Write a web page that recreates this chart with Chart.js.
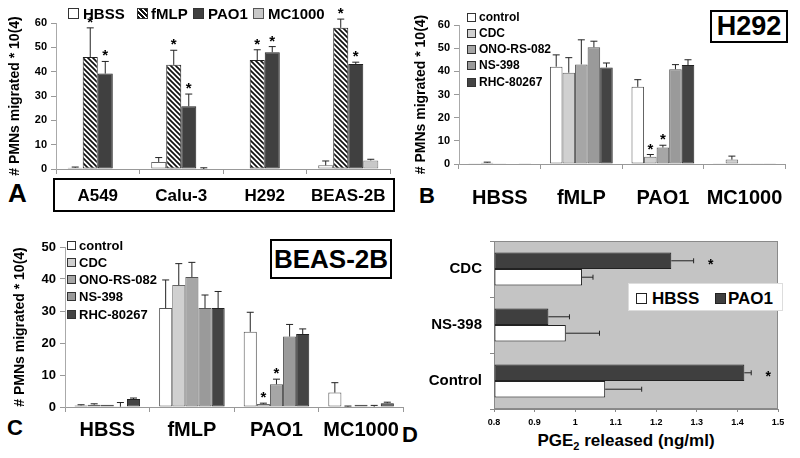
<!DOCTYPE html>
<html>
<head>
<meta charset="utf-8">
<script src="https://cdn.jsdelivr.net/npm/chart.js@4"></script>
<style>
  body { margin: 0; width: 800px; height: 458px; position: relative; overflow: hidden; background: #fff;
         font-family: "Liberation Sans", Arial, sans-serif; }
  canvas { position: absolute; }
  .txt { position: absolute; font-weight: bold; line-height: 1; white-space: nowrap; color: #000; }
  .box { position: absolute; box-sizing: border-box; border: 2px solid #000; display: flex;
         align-items: center; justify-content: center; font-weight: bold; line-height: 1; }
  .sq { position: absolute; box-sizing: border-box; border: 1px solid #333; }
</style>
</head>
<body>
<div class="box" style="left:53px;top:178px;width:342px;height:34px"></div>
<div class="box" style="left:710px;top:10px;width:78px;height:33px;font-size:27px">H292</div>
<div class="box" style="left:270px;top:239px;width:122px;height:40px;font-size:26px">BEAS-2B</div>
<div class="txt" style="left:8px;top:180px;font-size:26px">A</div>
<div class="txt" style="left:419px;top:185px;font-size:22px">B</div>
<div class="txt" style="left:7px;top:417px;font-size:22px">C</div>
<div class="txt" style="left:402px;top:424px;font-size:22px">D</div>
<div class="txt" style="left:476px;top:432px;width:300px;text-align:center;font-size:17px">PGE<sub style="font-size:11px;line-height:0">2</sub> released (ng/ml)</div>

<canvas id="chartA" width="400" height="229" style="left:0;top:0"></canvas>
<canvas id="chartB" width="400" height="229" style="left:400px;top:0"></canvas>
<canvas id="chartC" width="405" height="229" style="left:0;top:229px"></canvas>
<canvas id="chartD" width="400" height="234" style="left:400px;top:224px"></canvas>
<div id="legends"></div>

<script>
// panel A: cell lines x stimulus
const cellLines = ['A549', 'Calu-3', 'H292', 'BEAS-2B'];
const aHBSS = [0.5, 2.9, 0, 1.5];
const aHBSSErr = [0.3, 1.8, 0, 1.8];
const aFMLP = [46, 42.8, 44.8, 58];
const aFMLPErr = [12, 6, 4.2, 3.6];
const aPAO1 = [39.2, 25.8, 48, 43.1];
const aPAO1Err = [5, 5, 2.3, 0.8];
const aMC1000 = [0, 0, 0, 3.5];
const aMC1000Err = [0, 0.5, 0, 0.5];
const aStars = [true, true, true, true];

// panels B (H292) and C (BEAS-2B): stimulus x inhibitor
const stimuli = ['HBSS', 'fMLP', 'PAO1', 'MC1000'];
const inhibitors = ['control', 'CDC', 'ONO-RS-082', 'NS-398', 'RHC-80267'];
const inhibStars = [false, false, true, false]; // only under PAO1 for CDC and ONO-RS-082

const bControl = [0.1, 42, 33.3, 0.1];
const bControlErr = [0, 5.1, 3.1, 0];
const bCDC = [0.5, 39.4, 3.1, 1.9];
const bCDCErr = [0.3, 6.5, 1, 1.5];
const bONO = [0.3, 43, 7.1, 0.1];
const bONOErr = [0, 10.6, 1, 0];
const bNS = [0.2, 50.4, 40.9, 0.1];
const bNSErr = [0, 2.6, 2, 0];
const bRHC = [0.1, 41.7, 42.7, 0.1];
const bRHCErr = [0, 1.9, 2.3, 0];

const cControl = [0.5, 30.9, 23.5, 4.5];
const cControlErr = [0.2, 8.8, 6.1, 3.1];
const cCDC = [0.7, 38.1, 0.9, 0.1];
const cCDCErr = [0.3, 6.7, 0.3, 0.2];
const cONO = [0.7, 40.6, 7.1, 0.7];
const cONOErr = [0, 4.6, 1.6, 0];
const cNS = [0.1, 30.9, 22, 0.1];
const cNSErr = [1.3, 4.1, 3.8, 0.4];
const cRHC = [2.5, 30.9, 22.8, 1.2];
const cRHCErr = [0.3, 5.2, 1.6, 0.3];

// panel D: PGE2 release
const dTreatments = ['CDC', 'NS-398', 'Control'];
const dHBSS = [1.017, 0.977, 1.074];
const dHBSSErr = [0.027, 0.083, 0.09];
const dPAO1 = [1.237, 0.934, 1.417];
const dPAO1Err = [0.055, 0.052, 0.017];
const dStars = [true, false, true];

const yTicksA = [0, 10, 20, 30, 40, 50, 60];
const yTicksB = [0, 10, 20, 30, 40, 50, 60];
const yTicksC = [0, 10, 20, 30, 40, 50];
const xTicksD = [0.8, 0.9, 1, 1.1, 1.2, 1.3, 1.4, 1.5];
const yTitle = '# PMNs migrated * 10(4)';

const FONT = '"Liberation Sans", Arial, sans-serif';
Chart.defaults.font.family = FONT;
Chart.defaults.color = '#000';

const inhibColors = ['#ffffff', '#d0d0d0', '#a6a6a6', '#9a9a9a', '#444444'];
const inhibBorders = ['#555', '#666', '#555', '#555', '#222'];

function hatch() {
  const c = document.createElement('canvas');
  c.width = c.height = 5;
  const g = c.getContext('2d');
  g.fillStyle = '#fff';
  g.fillRect(0, 0, 5, 5);
  g.strokeStyle = '#111';
  g.lineWidth = 1.7;
  g.beginPath();
  for (let k = -1; k <= 1; k++) {
    g.moveTo(k * 5 - 1, -1);
    g.lineTo(k * 5 + 6, 6);
  }
  g.stroke();
  return g.createPattern(c, 'repeat');
}

// error bars (upper side only) and significance stars
const errorBars = {
  id: 'errorBars',
  afterDatasetsDraw(chart, args, o) {
    const ctx = chart.ctx;
    const horiz = chart.options.indexAxis === 'y';
    const vs = horiz ? chart.scales.x : chart.scales.y;
    ctx.save();
    chart.data.datasets.forEach((ds, i) => {
      if (!ds.errors) return;
      chart.getDatasetMeta(i).data.forEach((bar, j) => {
        const e = ds.errors[j];
        const end = vs.getPixelForValue(ds.data[j] + e);
        const from = horiz ? bar.x : bar.y;
        const c = horiz ? bar.y : bar.x;
        ctx.strokeStyle = o.color;
        ctx.lineWidth = o.width;
        if (e > 0) {
          ctx.beginPath();
          if (horiz) {
            ctx.moveTo(from, c); ctx.lineTo(end, c);
            ctx.moveTo(end, c - o.cap); ctx.lineTo(end, c + o.cap);
          } else {
            ctx.moveTo(c, from); ctx.lineTo(c, end);
            ctx.moveTo(c - o.cap, end); ctx.lineTo(c + o.cap, end);
          }
          ctx.stroke();
        }
        if (ds.stars && ds.stars[j]) {
          ctx.fillStyle = '#000';
          ctx.font = o.starFont;
          ctx.textAlign = 'center';
          ctx.textBaseline = 'alphabetic';
          if (horiz) ctx.fillText('*', end + o.starGap, c + 8);
          else ctx.fillText('*', c, end - o.starGap);
        }
      });
    });
    ctx.restore();
  }
};

const plotBg = {
  id: 'plotBg',
  beforeDatasetsDraw(chart, args, o) {
    if (!o.color) return;
    const a = chart.chartArea, ctx = chart.ctx;
    ctx.save();
    ctx.fillStyle = o.color;
    ctx.fillRect(a.left, a.top, a.right - a.left, a.bottom - a.top);
    ctx.strokeStyle = o.border;
    ctx.lineWidth = 1;
    ctx.strokeRect(a.left + 0.5, a.top + 0.5, a.right - a.left - 1, a.bottom - a.top - 1);
    ctx.restore();
  }
};

function groupedOptions(p) {
  return {
    responsive: false,
    animation: false,
    devicePixelRatio: 1,
    layout: { padding: { top: p.top, right: p.right, left: 0, bottom: 0 } },
    datasets: { bar: { barPercentage: 1, categoryPercentage: p.cat, borderWidth: 1, borderSkipped: false, clip: false } },
    plugins: {
      legend: { display: false },
      tooltip: { enabled: false },
      errorBars: { color: '#222', width: 1, cap: 3.5, starFont: 'bold 15px ' + FONT, starGap: 1 }
    },
    scales: {
      x: {
        grid: { offset: true, drawOnChartArea: false, tickLength: 5, color: '#999' },
        border: { color: '#999' },
        ticks: { font: { size: p.xFont, weight: 'bold' }, color: '#000', padding: p.xPad, maxRotation: 0, minRotation: 0, autoSkip: false },
        afterFit: s => { s.height = p.xH; }
      },
      y: {
        min: 0, max: p.ticks[p.ticks.length - 1],
        afterBuildTicks: s => { s.ticks = p.ticks.map(v => ({ value: v })); },
        grid: { drawOnChartArea: false, tickLength: 5, color: '#999' },
        border: { color: '#aaa' },
        ticks: { font: { size: p.yFont, weight: 'bold' }, color: '#000', padding: 4 },
        title: { display: true, text: yTitle, color: '#000', font: { size: 14, weight: 'bold' }, padding: { top: p.titlePad, bottom: 0 } },
        afterFit: s => { s.width = p.yW; }
      }
    }
  };
}

new Chart(document.getElementById('chartA'), {
  type: 'bar',
  data: {
    labels: cellLines,
    datasets: [
      { label: 'HBSS', data: aHBSS, errors: aHBSSErr, backgroundColor: '#fff', borderColor: '#666' },
      { label: 'fMLP', data: aFMLP, errors: aFMLPErr, stars: aStars, backgroundColor: hatch(), borderColor: '#222' },
      { label: 'PAO1', data: aPAO1, errors: aPAO1Err, stars: aStars, backgroundColor: '#404040', borderColor: '#222' },
      { label: 'MC1000', data: aMC1000, errors: aMC1000Err, backgroundColor: '#c8c8c8', borderColor: '#777' }
    ]
  },
  options: groupedOptions({ top: 23, right: 10, cat: 0.72, xFont: 17, xPad: 12, xH: 60, ticks: yTicksA, yFont: 11, titlePad: 7, yW: 56 }),
  plugins: [errorBars]
});

function inhibDatasets(vals, errs) {
  return inhibitors.map((name, k) => ({
    label: name, data: vals[k], errors: errs[k],
    stars: (k === 1 || k === 2) ? inhibStars : null,
    backgroundColor: inhibColors[k], borderColor: inhibBorders[k]
  }));
}

new Chart(document.getElementById('chartB'), {
  type: 'bar',
  data: {
    labels: stimuli,
    datasets: inhibDatasets([bControl, bCDC, bONO, bNS, bRHC], [bControlErr, bCDCErr, bONOErr, bNSErr, bRHCErr])
  },
  options: groupedOptions({ top: 25, right: 6, cat: 0.77, xFont: 20, xPad: 17, xH: 65, ticks: yTicksB, yFont: 11, titlePad: 13, yW: 59 }),
  plugins: [errorBars]
});

new Chart(document.getElementById('chartC'), {
  type: 'bar',
  data: {
    labels: stimuli,
    datasets: inhibDatasets([cControl, cCDC, cONO, cNS, cRHC], [cControlErr, cCDCErr, cONOErr, cNSErr, cRHCErr])
  },
  options: groupedOptions({ top: 18, right: 1, cat: 0.775, xFont: 20, xPad: 6, xH: 51, ticks: yTicksC, yFont: 13, titlePad: 12, yW: 65 }),
  plugins: [errorBars]
});

new Chart(document.getElementById('chartD'), {
  type: 'bar',
  data: {
    labels: dTreatments,
    datasets: [
      { label: 'PAO1', data: dPAO1, errors: dPAO1Err, stars: dStars, backgroundColor: '#3f3f3f', borderColor: '#222' },
      { label: 'HBSS', data: dHBSS, errors: dHBSSErr, backgroundColor: '#fff', borderColor: '#222' }
    ]
  },
  options: {
    indexAxis: 'y',
    responsive: false,
    animation: false,
    devicePixelRatio: 1,
    layout: { padding: { top: 5, right: 22, left: 0, bottom: 0 } },
    datasets: { bar: { barPercentage: 1, categoryPercentage: 0.587, borderWidth: 1, borderSkipped: false, base: 0.8 } },
    plugins: {
      legend: { display: false },
      tooltip: { enabled: false },
      plotBg: { color: '#c4c4c4', border: '#8a8a8a' },
      errorBars: { color: '#222', width: 1, cap: 2.5, starFont: 'bold 14px ' + FONT, starGap: 17 }
    },
    scales: {
      x: {
        min: 0.8, max: 1.5,
        afterBuildTicks: s => { s.ticks = xTicksD.map(v => ({ value: v })); },
        grid: { drawOnChartArea: false, tickLength: 3, color: '#888' },
        border: { color: '#888' },
        ticks: { font: { size: 9, weight: 'bold' }, color: '#000', padding: 5, maxRotation: 0, callback: v => String(+v.toFixed(1)) },
        afterFit: s => { s.height = 49; }
      },
      y: {
        grid: { offset: true, drawOnChartArea: false, tickLength: 4, color: '#888' },
        border: { color: '#888' },
        ticks: { font: { size: 15, weight: 'bold' }, color: '#000', padding: 8 },
        afterFit: s => { s.width = 94; }
      }
    }
  },
  plugins: [plotBg, errorBars]
});

// legends
const leg = document.getElementById('legends');
function legendItem(x, cy, size, fill, border, label, tx, fs) {
  const sq = document.createElement('div');
  sq.className = 'sq';
  Object.assign(sq.style, { left: x + 'px', top: (cy - size / 2) + 'px', width: size + 'px', height: size + 'px', background: fill, borderColor: border });
  leg.appendChild(sq);
  const t = document.createElement('div');
  t.className = 'txt';
  t.textContent = label;
  Object.assign(t.style, { left: tx + 'px', top: (cy - 0.49 * fs) + 'px', fontSize: fs + 'px' });
  leg.appendChild(t);
}
const hatchCss = 'repeating-linear-gradient(45deg, #111 0 1.6px, #fff 1.6px 3.5px)';
legendItem(68, 13, 11, '#fff', '#333', 'HBSS', 83, 15);
legendItem(137, 13, 11, hatchCss, '#333', 'fMLP', 151, 15);
legendItem(193, 13, 11, '#404040', '#333', 'PAO1', 208, 15);
legendItem(253, 13, 11, '#c8c8c8', '#555', 'MC1000', 268, 15);
const bRows = [17, 33, 49, 65, 82];
const cRows = [245, 262, 279, 296, 314];
inhibitors.forEach((name, k) => {
  legendItem(467, bRows[k], 9, inhibColors[k], '#333', name, 479, 12);
  legendItem(67, cRows[k], 9, inhibColors[k], '#333', name, 79, 13);
});
const dBox = document.createElement('div');
Object.assign(dBox.style, { position: 'absolute', left: '628px', top: '283px', width: '155px', height: '28px', background: '#fff', border: '1px solid #ddd', boxSizing: 'border-box' });
leg.appendChild(dBox);
legendItem(636, 298, 11, '#fff', '#222', 'HBSS', 652, 17);
legendItem(715, 298, 11, '#3f3f3f', '#222', 'PAO1', 728, 17);
</script>
</body>
</html>
